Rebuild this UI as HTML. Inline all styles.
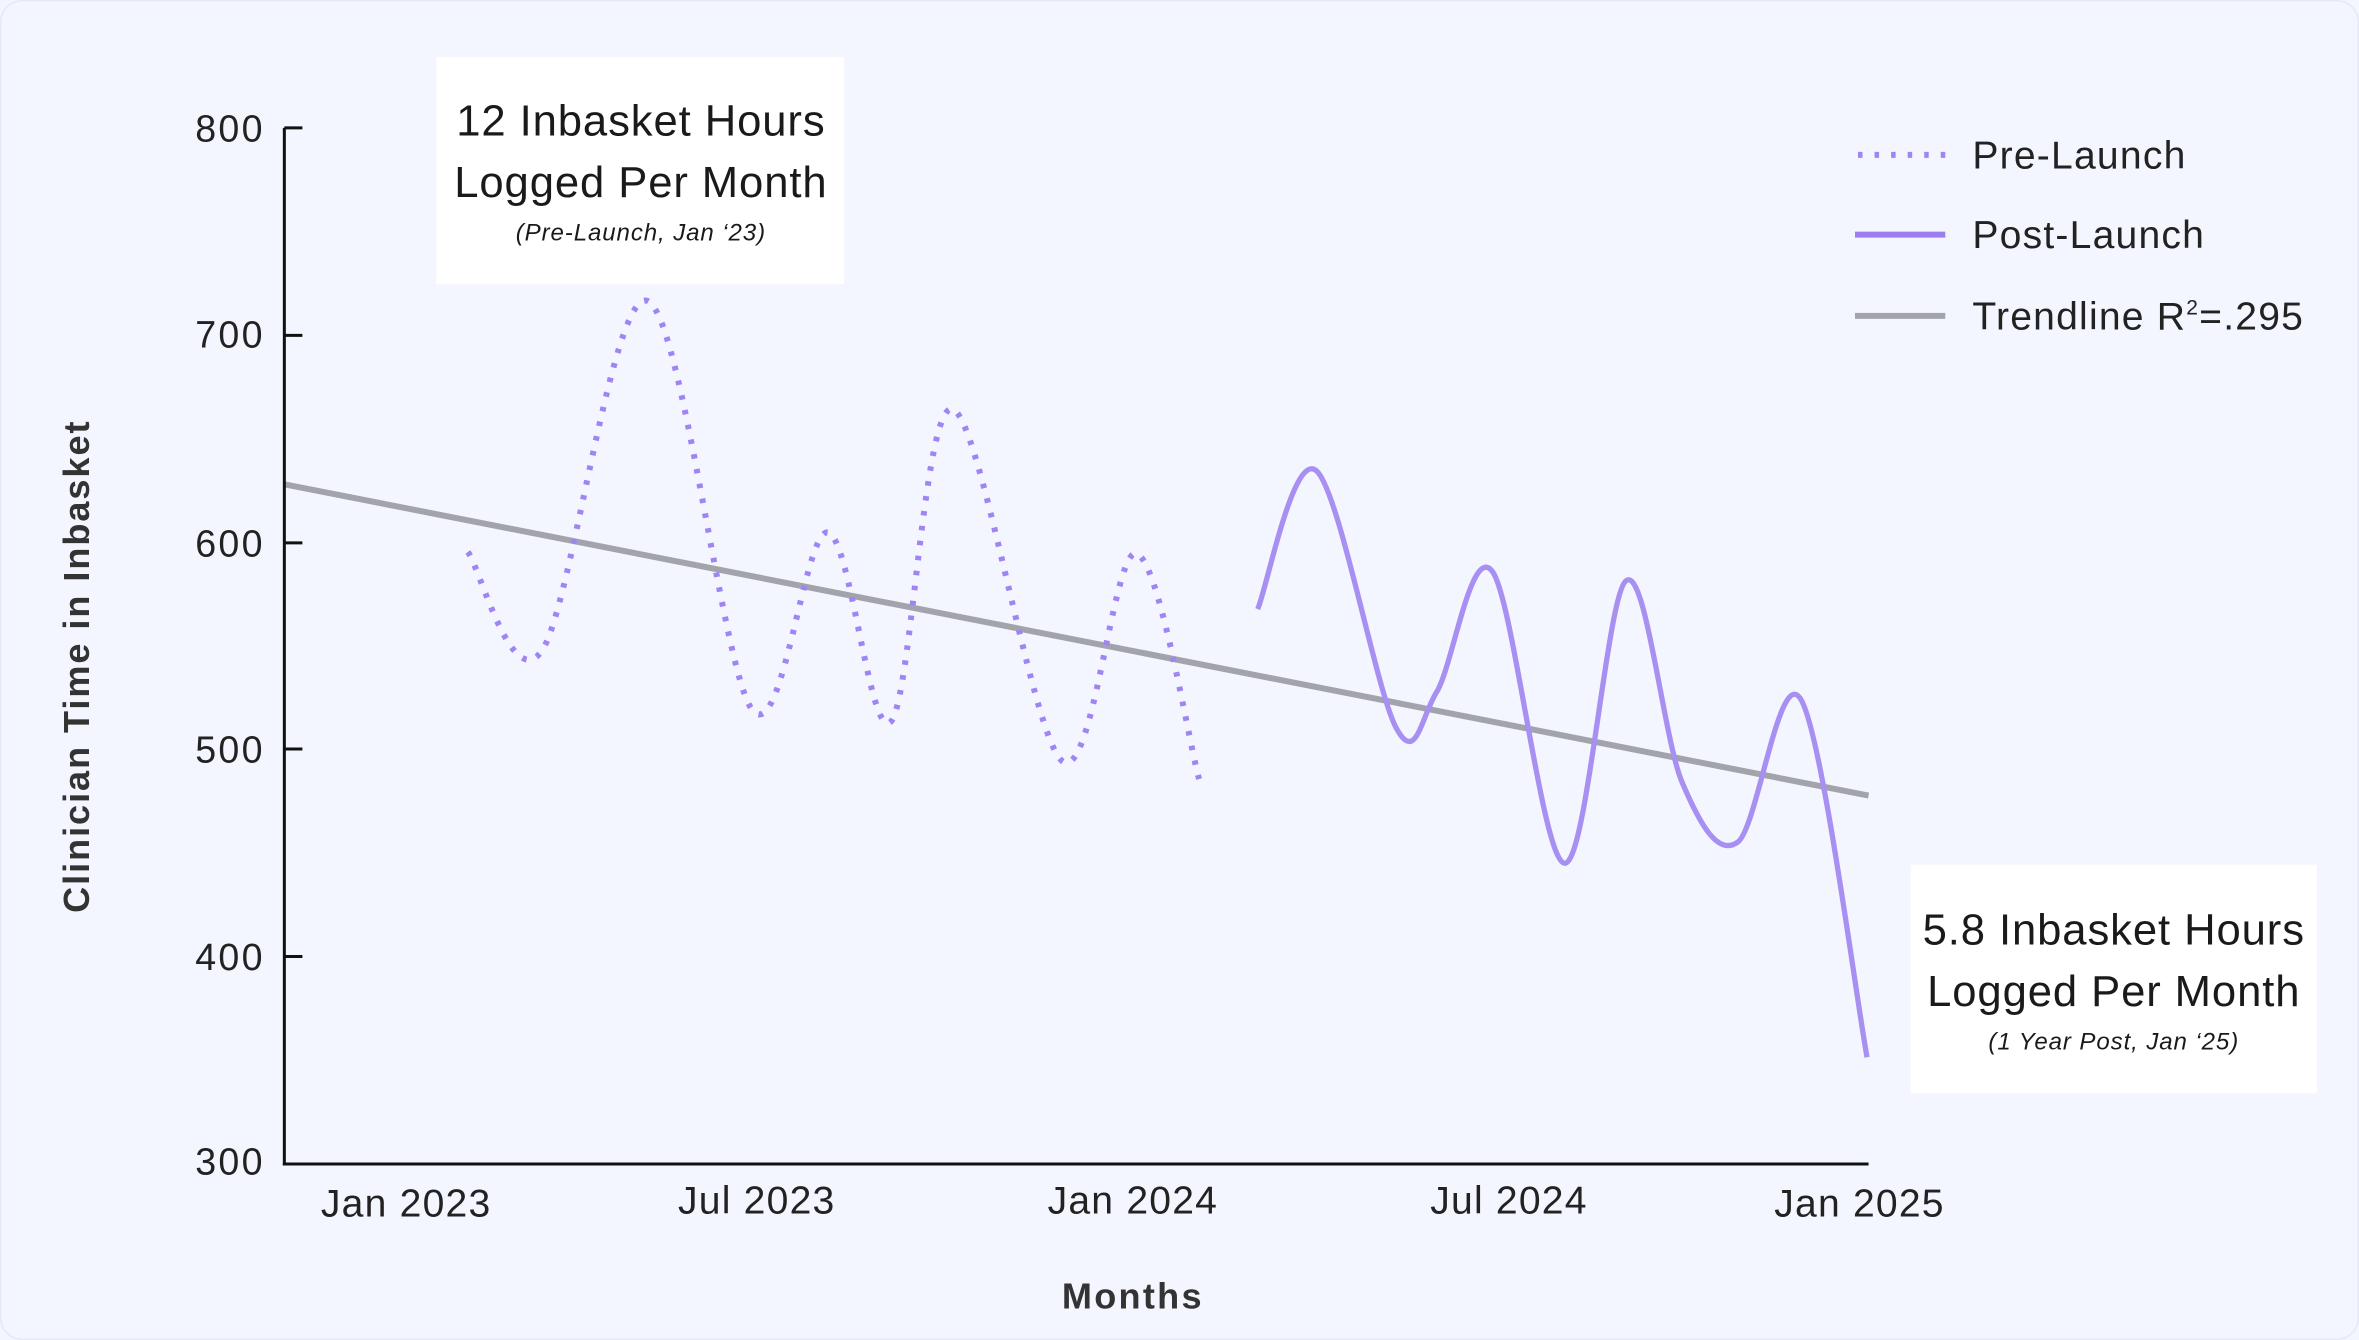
<!DOCTYPE html>
<html><head><meta charset="utf-8">
<style>
html,body{margin:0;padding:0;background:#f3f6fe;}
svg{display:block;}
text{font-family:"Liberation Sans",sans-serif;}
</style></head>
<body>
<svg id="s" width="2359" height="1340" viewBox="0 0 1568 891" preserveAspectRatio="none" xmlns="http://www.w3.org/2000/svg">
<rect x="0.5" y="0.5" width="1567" height="890" rx="14" fill="#f3f6fe" stroke="#e6e9f3"/>
<line x1="189" y1="322" x2="1242" y2="529" stroke="#a3a3ab" stroke-width="4"/>
<path id="pre" fill="none" stroke="#9f85f3" stroke-width="4" stroke-dasharray="3 7" stroke-linecap="butt"/>
<path id="post" fill="none" stroke="#a88ff2" stroke-width="3.5"/>
<line x1="189" y1="85" x2="189" y2="775" stroke="#111" stroke-width="2"/>
<line x1="188" y1="774" x2="1242" y2="774" stroke="#111" stroke-width="2"/>
<g stroke="#111" stroke-width="2">
<line x1="189" y1="85" x2="201" y2="85"/><line x1="189" y1="223" x2="201" y2="223"/>
<line x1="189" y1="361" x2="201" y2="361"/><line x1="189" y1="498" x2="201" y2="498"/>
<line x1="189" y1="636" x2="201" y2="636"/>
</g>
<g font-size="25" fill="#222" text-anchor="end" letter-spacing="1.5">
<text x="176" y="94">800</text><text x="176" y="231">700</text><text x="176" y="370">600</text>
<text x="176" y="507">500</text><text x="176" y="645">400</text><text x="176" y="781">300</text>
</g>
<g font-size="26" fill="#222" text-anchor="middle" letter-spacing="0.8">
<text x="270" y="809">Jan 2023</text><text x="503" y="807">Jul 2023</text>
<text x="753" y="807">Jan 2024</text><text x="1003" y="807">Jul 2024</text>
<text x="1236" y="809">Jan 2025</text>
</g>
<text x="753" y="870" font-size="24" font-weight="bold" fill="#333" text-anchor="middle" letter-spacing="1.5">Months</text>
<text transform="translate(59,443) rotate(-90)" font-size="24" font-weight="bold" fill="#333" text-anchor="middle" letter-spacing="1.3">Clinician Time in Inbasket</text>
<rect x="290" y="38" width="271" height="151" fill="#ffffff"/>
<g text-anchor="middle" fill="#1a1a1a">
<text x="426" y="90" font-size="29" letter-spacing="0.6">12 Inbasket Hours</text>
<text x="426" y="131" font-size="29" letter-spacing="0.6">Logged Per Month</text>
<text x="426" y="160" font-size="16" font-style="italic" letter-spacing="0.6">(Pre-Launch, Jan ‘23)</text>
</g>
<rect x="1270" y="575" width="270" height="152" fill="#ffffff"/>
<g text-anchor="middle" fill="#1a1a1a">
<text x="1405" y="628" font-size="29" letter-spacing="0.6">5.8 Inbasket Hours</text>
<text x="1405" y="669" font-size="29" letter-spacing="0.6">Logged Per Month</text>
<text x="1405" y="698" font-size="16" font-style="italic" letter-spacing="0.6">(1 Year Post, Jan ‘25)</text>
</g>
<line x1="1235" y1="103" x2="1293" y2="103" stroke="#9f85f3" stroke-width="4" stroke-dasharray="3 8"/>
<line x1="1233" y1="156" x2="1293" y2="156" stroke="#9b7ff0" stroke-width="4"/>
<line x1="1233" y1="210" x2="1293" y2="210" stroke="#a3a3ab" stroke-width="4"/>
<g font-size="26" fill="#222" letter-spacing="0.8">
<text x="1311" y="112">Pre-Launch</text>
<text x="1311" y="165">Post-Launch</text>
<text x="1311" y="219">Trendline R<tspan font-size="14" dy="-10">2</tspan><tspan dy="10">=.295</tspan></text>
</g>
</svg>
<script>
function cr(p,t){
  var d="M"+p[0][0]+","+p[0][1];
  for(var i=0;i<p.length-1;i++){
    var p0=p[i-1]||p[i],p1=p[i],p2=p[i+1],p3=p[i+2]||p[i+1];
    var c1=[p1[0]+(p2[0]-p0[0])/t,p1[1]+(p2[1]-p0[1])/t];
    var c2=[p2[0]-(p3[0]-p1[0])/t,p2[1]-(p3[1]-p1[1])/t];
    d+=" C"+c1+" "+c2+" "+p2;
  }
  return d;
}
document.getElementById("pre").setAttribute("d",cr([[311,367],[360,433],[430,200],[500,472],[550,354],[592,480],[633,272],[706,506],[755,368],[797,518]],6));
document.getElementById("post").setAttribute("d",cr([[836,405],[875,313],[928,484],[955,460],[992,380],[1040,574],[1081,386],[1118,520],[1155,560],[1197,465],[1241,703]],6));
</script>
</body></html>
